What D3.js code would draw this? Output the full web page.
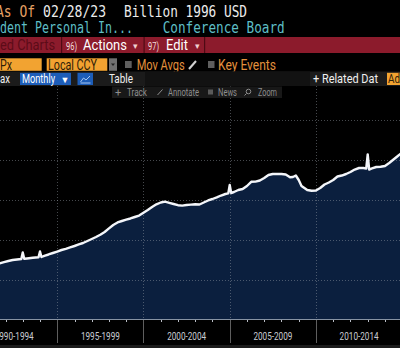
<!DOCTYPE html>
<html><head><meta charset="utf-8">
<script src="https://cdn.jsdelivr.net/npm/d3@7"></script>
<style>html,body{margin:0;padding:0;background:#000;overflow:hidden}svg{display:block}</style>
</head><body>
<script>
// ---- data (Billion 1996 USD, monthly, placed at month end) ----
const months = ["1991-05","1991-11","1992-02","1992-05","1992-08","1992-11","1992-12","1993-01","1993-03","1993-07","1993-11","1993-12","1994-01","1994-03","1994-06","1994-09","1994-12","1995-03","1995-06","1995-09","1995-12","1996-03","1996-06","1996-09","1996-12","1997-03","1997-06","1997-09","1997-12","1998-03","1998-06","1998-09","1998-12","1999-03","1999-06","1999-09","1999-12","2000-03","2000-06","2000-09","2000-12","2001-03","2001-06","2001-09","2001-12","2002-03","2002-06","2002-09","2002-12","2003-03","2003-06","2003-09","2003-12","2004-03","2004-06","2004-09","2004-11","2004-12","2005-01","2005-03","2005-06","2005-09","2005-12","2006-03","2006-06","2006-09","2006-12","2007-03","2007-06","2007-09","2007-12","2008-03","2008-06","2008-08","2008-10","2008-12","2009-02","2009-04","2009-06","2009-09","2009-12","2010-03","2010-06","2010-09","2010-12","2011-03","2011-06","2011-09","2011-12","2012-03","2012-06","2012-09","2012-11","2012-12","2013-01","2013-03","2013-06","2013-09","2013-12","2014-03","2014-06","2014-09","2014-12","2015-03"];
const income = [5388,5445,5475,5500,5512,5525,5688,5530,5538,5555,5570,5712,5575,5605,5638,5675,5712,5750,5780,5815,5850,5888,5925,5975,6025,6075,6130,6200,6290,6375,6438,6475,6508,6538,6575,6612,6682,6750,6825,6892,6938,6958,6930,6900,6870,6860,6875,6885,6892,6888,6938,6988,7025,7065,7112,7150,7165,7375,7175,7200,7250,7275,7350,7455,7460,7488,7550,7625,7650,7650,7650,7638,7568,7575,7612,7500,7350,7300,7250,7232,7238,7300,7388,7438,7500,7588,7612,7650,7700,7762,7800,7800,7788,8138,7762,7788,7825,7832,7850,7925,8012,8100,8188,8260];
const periodStarts = [1990,1995,2000,2005,2010,2015];
const periodLabels = ["1990-1994","1995-1999","2000-2004","2005-2009","2010-2014"];
const gridValues = [5000,6000,7000,8000,9000];

const W = 400, H = 348;
const svg = d3.select("body").append("svg").attr("width", W).attr("height", H);
svg.append("rect").attr("width", W).attr("height", H).attr("fill", "#000");

const plotTop = 86, plotBottom = 320;
const x = d3.scaleTime().domain([new Date(1995,0,1), new Date(2010,0,1)]).range([57.27, 316]);
const y = d3.scaleLinear().domain([4000, 9550]).range([320, 98]);

const data = months.map((m,i) => {
  const [yy, mm] = m.split("-").map(Number);
  return {date: new Date(yy, mm, 0), v: income[i]};
});

const defs = svg.append("defs");
defs.append("clipPath").attr("id","clip").append("rect")
  .attr("x",0).attr("y",plotTop).attr("width",W).attr("height",plotBottom-plotTop);

const plot = svg.append("g").attr("clip-path","url(#clip)");
plot.append("path").datum(data)
  .attr("fill","#0b1f3e")
  .attr("d", d3.area().x(d=>x(d.date)).y0(plotBottom).y1(d=>y(d.v)));

// grid
const grid = plot.append("g").attr("stroke","#9aa0a8").attr("stroke-opacity",0.45)
  .attr("stroke-width",1).attr("stroke-dasharray","1,2");
grid.selectAll("line.h").data(gridValues).join("line")
  .attr("x1",0).attr("x2",W).attr("y1",d=>Math.round(y(d))+0.5).attr("y2",d=>Math.round(y(d))+0.5);
grid.selectAll("line.v").data(periodStarts).join("line")
  .attr("x1",d=>Math.round(x(new Date(d,0,1)))+0.5).attr("x2",d=>Math.round(x(new Date(d,0,1)))+0.5)
  .attr("y1",plotTop).attr("y2",plotBottom);

plot.append("path").datum(data)
  .attr("fill","none").attr("stroke","#f4f6fa").attr("stroke-width",2.4).attr("stroke-linejoin","round")
  .attr("d", d3.line().x(d=>x(d.date)).y(d=>y(d.v)));

// x axis
const axis = svg.append("g");
axis.append("line").attr("x1",0).attr("x2",W).attr("y1",319.5).attr("y2",319.5)
  .attr("stroke","#8793a3").attr("stroke-width",1);
const years = d3.range(1991, 2016);
axis.selectAll("line.minor").data(years.filter(yy=>yy%5!==0)).join("line")
  .attr("x1",d=>Math.round(x(new Date(d,0,1)))+0.5).attr("x2",d=>Math.round(x(new Date(d,0,1)))+0.5)
  .attr("y1",320).attr("y2",322).attr("stroke","#b8bcc4");
axis.selectAll("line.major").data(periodStarts).join("line")
  .attr("x1",d=>Math.round(x(new Date(d,0,1)))+0.5).attr("x2",d=>Math.round(x(new Date(d,0,1)))+0.5)
  .attr("y1",320).attr("y2",343).attr("stroke","#5e5e5e");
axis.selectAll("text").data(periodLabels).join("text")
  .attr("x",(d,i)=>(x(new Date(periodStarts[i],0,1))+x(new Date(periodStarts[i+1],0,1)))/2)
  .attr("y",339.5).attr("text-anchor","middle")
  .attr("font-family","Roboto, sans-serif").attr("font-size",11).attr("fill","#c9ccd2")
  .attr("textLength",39).attr("lengthAdjust","spacingAndGlyphs").text(d=>d);
svg.append("rect").attr("x",0).attr("y",345).attr("width",W).attr("height",3).attr("fill","#1b1b1b");

// ---- header / toolbar ----
function txt(g, s, xx, yy, o) {
  const t = g.append("text").attr("x",xx).attr("y",yy).text(s)
    .attr("font-family", o.ff || "Roboto, sans-serif").attr("font-size", o.fs || 13)
    .attr("fill", o.fill || "#fff").attr("font-weight", o.fw || "normal");
  if (o.tl) t.attr("textLength", o.tl).attr("lengthAdjust","spacingAndGlyphs");
  return t;
}
const hd = svg.append("g");
const mono = "'DejaVu Sans Mono', 'Liberation Mono', monospace";
txt(hd, "As Of", -4, 16.5, {ff:mono, fs:16, fill:"#e6a064", tl:39});
txt(hd, "02/28/23", 43, 16.5, {ff:mono, fs:16, fill:"#ececec", tl:63});
txt(hd, "Billion 1996 USD", 124, 16.5, {ff:mono, fs:16, fill:"#ececec", tl:123});
txt(hd, "dent Personal In...", 0, 33, {ff:mono, fs:16, fill:"#5ebec6", tl:133});
txt(hd, "Conference Board", 162.7, 33, {ff:mono, fs:16, fill:"#5ebec6", tl:122});

// red bar
hd.append("rect").attr("x",0).attr("y",37).attr("width",W).attr("height",16).attr("fill","#8c1b2c");
[61,143.5,204].forEach(s=>hd.append("rect").attr("x",s).attr("y",37).attr("width",1.2).attr("height",16).attr("fill","#4e0a14"));
txt(hd, "ed Charts", 0, 50, {fs:14, fill:"#5c0c18", tl:55});
txt(hd, "96)", 66, 49.5, {fs:11, fill:"#f2dede", tl:11});
txt(hd, "Actions", 83, 50, {fs:14, fill:"#ffffff", tl:44});
txt(hd, "▾", 132.5, 49, {fs:9, fill:"#f0d0d0"});
txt(hd, "97)", 148, 49.5, {fs:11, fill:"#f2dede", tl:11});
txt(hd, "Edit", 166, 50, {fs:14, fill:"#ffffff", tl:22});
txt(hd, "▾", 194.5, 49, {fs:9, fill:"#f0d0d0"});

// row 4
hd.append("rect").attr("x",0).attr("y",58.3).attr("width",41.7).attr("height",12.5).attr("fill","#f2a331");
txt(hd, "Px", 0, 69.5, {fs:14, fill:"#2e2008", tl:12});
hd.append("rect").attr("x",46.7).attr("y",58.3).attr("width",60.6).attr("height",12.5).attr("fill","#f2a331");
txt(hd, "Local CCY", 48, 69.5, {fs:14, fill:"#2e2008", tl:49});
hd.append("rect").attr("x",109).attr("y",58.3).attr("width",8).attr("height",12.5).attr("fill","#707070");
hd.append("path").attr("d","M111,63.5 L115,63.5 L113,66 Z").attr("fill","#222");
hd.append("rect").attr("x",125).attr("y",61).attr("width",6.7).attr("height",7).attr("fill","#5e5e5e");
txt(hd, "Mov Avgs", 136.7, 69.5, {fs:14, fill:"#e3913d", tl:48});
hd.append("line").attr("x1",189).attr("y1",69).attr("x2",196).attr("y2",61).attr("stroke","#cfcfcf").attr("stroke-width",2);
hd.append("rect").attr("x",208).attr("y",61).attr("width",6.5).attr("height",7).attr("fill","#5e5e5e");
txt(hd, "Key Events", 218, 69.5, {fs:14, fill:"#e3913d", tl:58});

// row 5
hd.append("rect").attr("x",0).attr("y",71.5).attr("width",W).attr("height",14.5).attr("fill","#1b1b1b");
hd.append("rect").attr("x",145).attr("y",71.5).attr("width",165).attr("height",14.5).attr("fill","#121212");
txt(hd, "ax", 0, 83, {fs:13, fill:"#f0f0f0", tl:10});
hd.append("rect").attr("x",20).attr("y",72.8).attr("width",51).attr("height",12.2).attr("fill","#1d5db8");
txt(hd, "Monthly", 22, 83, {fs:13, fill:"#ffffff", tl:33});
txt(hd, "▼", 60.5, 82.5, {fs:9, fill:"#ffffff"});
hd.append("rect").attr("x",77.5).attr("y",72.8).attr("width",15.5).attr("height",12.2).attr("fill","#1d5db8");
hd.append("path").attr("d","M80.5,82 L83.5,78 L86,80 L90,76 M80.5,83 L90.5,83").attr("fill","none").attr("stroke","#a9c8f0").attr("stroke-width",1);
txt(hd, "Table", 109, 83, {fs:13, fill:"#f0f0f0", tl:24});
txt(hd, "+ Related Dat", 313, 83, {fs:13, fill:"#f0f0f0", tl:65});
hd.append("rect").attr("x",387).attr("y",72.8).attr("width",13).attr("height",12.2).attr("fill","#f2a331");
txt(hd, "Ad", 388, 83, {fs:13, fill:"#2e2008", tl:12});

// row 6
hd.append("rect").attr("x",112).attr("y",86.5).attr("width",170).attr("height",11.5).attr("fill","#181818");
const gcol = "#8e8e8e";
txt(hd, "+", 115, 95.5, {fs:11, fill:gcol});
txt(hd, "Track", 127, 95.5, {fs:10, fill:gcol, tl:20});
hd.append("line").attr("x1",157.5).attr("y1",95).attr("x2",162.5).attr("y2",89.5).attr("stroke",gcol).attr("stroke-width",1);
txt(hd, "Annotate", 168, 95.5, {fs:10, fill:gcol, tl:31});
hd.append("rect").attr("x",208).attr("y",89.5).attr("width",5).attr("height",5).attr("fill","#5a5a5a");
txt(hd, "News", 218, 95.5, {fs:10, fill:gcol, tl:19});
hd.append("circle").attr("cx",248.5).attr("cy",91.5).attr("r",2.3).attr("fill","none").attr("stroke",gcol);
hd.append("line").attr("x1",246.5).attr("y1",93.5).attr("x2",244.5).attr("y2",95.5).attr("stroke",gcol);
txt(hd, "Zoom", 258, 95.5, {fs:10, fill:gcol, tl:19});
</script>
</body></html>
